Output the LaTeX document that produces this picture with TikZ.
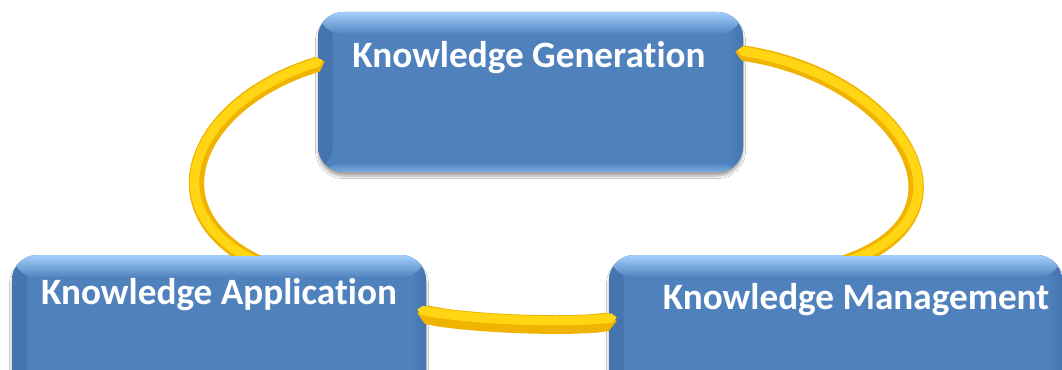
\documentclass[tikz,border=0pt]{standalone}
\usepackage{fontspec}
\setmainfont{Carlito}[RawFeature={-liga;-clig}]
\usetikzlibrary{calc,arrows.meta,shadows.blur}
\definecolor{face}{HTML}{4F81BD}
\definecolor{side}{HTML}{4674AF}
\definecolor{rim}{HTML}{A3D0FB}
\definecolor{gold}{HTML}{EFB300}
\definecolor{goldhi}{HTML}{FFD514}
\begin{document}
\begin{tikzpicture}[x=0.75pt,y=-0.75pt,
  box/.style={rectangle, rounded corners=19pt, minimum height=120pt, inner sep=0pt, fill=face,
    blur shadow={shadow xshift=0pt, shadow yshift=-3pt, shadow opacity=35, shadow blur steps=6},
    path picture={
      % bevelled rim: darker sides, bright top edge, soft bottom edge
      \shade[left color=side, right color=face]
        (path picture bounding box.south west) rectangle ($(path picture bounding box.north west)+(11pt,0)$);
      \shade[right color=side, left color=face]
        (path picture bounding box.south east) rectangle ($(path picture bounding box.north east)+(-11pt,0)$);
      \shade[top color=rim, bottom color=face]
        (path picture bounding box.north west) rectangle ($(path picture bounding box.north east)+(0,-17pt)$);
      \shade[bottom color=rim!55!face, top color=face]
        (path picture bounding box.south west) rectangle ($(path picture bounding box.south east)+(0,7pt)$);
    }},
  lbl/.style={text=white, font=\fontsize{27.9pt}{32pt}\selectfont\bfseries, anchor=base, inner sep=0pt},
  band/.style={line width=#1, draw=gold},
  hi/.style={postaction={draw=goldhi, line width=7pt, transform canvas={shift={#1}}}}
]
\fill[white] (0,0) rectangle (1062,370);
\useasboundingbox (0,0) rectangle (1062,370);
\clip (0,0) rectangle (1062,370);

% the three stages
\node[box, minimum width=318.75pt] (G) at (530.5,92) {};
\node[box, minimum width=310.5pt] (A) at (219,335) {};
\node[box, minimum width=339.75pt] (M) at (835.5,335) {};

\node[lbl] (Gt) at ($(G.north)+(-1.5,56)$) {Knowledge Generation};
\node[lbl] (At) at ($(A.north)+(0,50)$) {Knowledge Application};
\node[lbl] (Mt) at ($(M.north)+(20.5,55)$) {Knowledge Management};

% ends of the connecting bands
\coordinate (a0) at ($(A.north west)+(246,8)$);
\coordinate (g1) at ($(G.north west)+(7,50)$);
\coordinate (m0) at ($(M.north west)+(236,8)$);
\coordinate (g2) at ($(G.north east)+(-8,40)$);
\coordinate (m1) at ($(M.west)+(8,-14)$);
\coordinate (a1) at ($(A.east)+(-9,-22)$);

% curved bands rising out of the lower boxes
\begin{scope}
  \clip (0,0) rectangle (1062,255.5);
  \draw[band=11.5pt, hi={(-1.6pt,1pt)}, -{Triangle Cap}]
    (a0) .. controls (150,210) and (195,105) .. (g1);
  \draw[band=11.5pt, hi={(1.6pt,1pt)}, -{Triangle Cap}]
    (m0) .. controls (985,215) and (900,80) .. (g2);
\end{scope}

% flat band between the lower boxes
\draw[band=14pt, hi={(0pt,2.6pt)}, {Triangle Cap}-{Triangle Cap}]
  (m1) .. controls (560,327) and (470,323) .. (a1);
\end{tikzpicture}
\end{document}
